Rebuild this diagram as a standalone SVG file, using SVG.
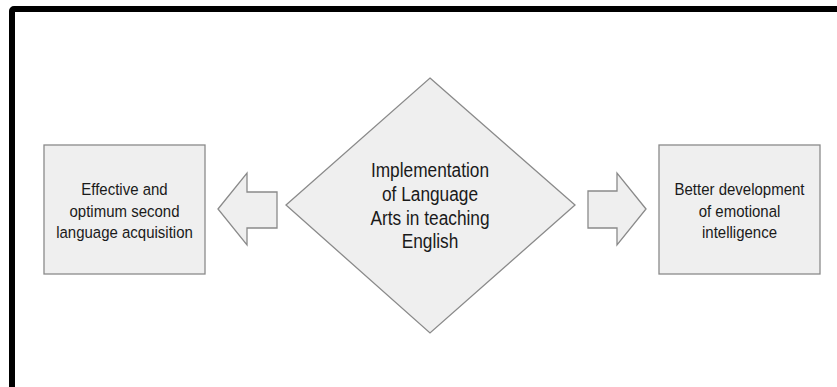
<svg xmlns="http://www.w3.org/2000/svg" width="837" height="387" viewBox="0 0 837 387">
<style>
.shape{fill:#efefef;stroke:#8a8a8a;stroke-width:1.3}
.t{font-family:"Liberation Sans",Arial,sans-serif;fill:#1a1a1a;text-anchor:middle}
.s{font-size:15px}
.m{font-size:17.3px}
</style>
<rect x="0" y="0" width="837" height="387" fill="#ffffff"/>
<rect x="12" y="9" width="900" height="500" rx="2" fill="none" stroke="#000" stroke-width="6"/>
<g id="connectors">
<polygon class="shape" points="218,209 247,173 247,192 277,192 277,228 247,228 247,245"/>
<polygon class="shape" points="646,209 617,173 617,191 588,191 588,228 617,228 617,245"/>
</g>
<g id="left-box">
<rect class="shape" x="44" y="145" width="161" height="129"/>
<text class="t s" transform="translate(124.5,195) scale(1,1.15)">Effective and</text>
<text class="t s" transform="translate(124.5,216.7) scale(1,1.15)">optimum second</text>
<text class="t s" transform="translate(124.5,238.3) scale(1,1.15)">language acquisition</text>
</g>
<g id="center-diamond">
<polygon class="shape" points="430,78 575,205 430,333 286,205"/>
<text class="t m" transform="translate(430,177.3) scale(1,1.18)">Implementation</text>
<text class="t m" transform="translate(430,201) scale(1,1.18)">of Language</text>
<text class="t m" transform="translate(430,224.7) scale(1,1.18)">Arts in teaching</text>
<text class="t m" transform="translate(430,248.3) scale(1,1.18)">English</text>
</g>
<g id="right-box">
<rect class="shape" x="659" y="145" width="161" height="129"/>
<text class="t s" transform="translate(739.5,195) scale(1,1.15)">Better development</text>
<text class="t s" transform="translate(739.5,216.7) scale(1,1.15)">of emotional</text>
<text class="t s" transform="translate(739.5,238.3) scale(1,1.15)">intelligence</text>
</g>
</svg>
